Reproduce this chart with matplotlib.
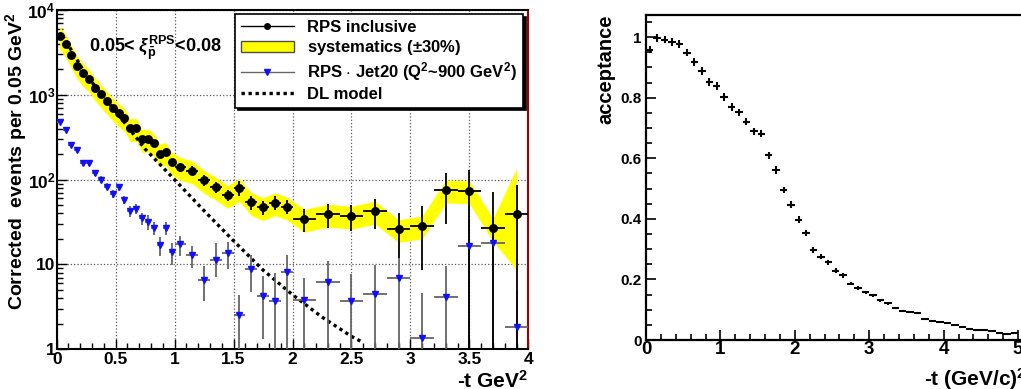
import matplotlib
matplotlib.use("Agg")
import matplotlib.pyplot as plt
import numpy as np
from matplotlib.lines import Line2D
from matplotlib.patches import Patch
from matplotlib.ticker import (FixedLocator, FixedFormatter, MultipleLocator,
                               FuncFormatter, LogLocator, NullFormatter)

plt.rcParams["font.family"] = ["Liberation Sans", "DejaVu Sans"]
plt.rcParams["font.weight"] = "bold"
plt.rcParams["axes.labelweight"] = "bold"
plt.rcParams["mathtext.fontset"] = "custom"
plt.rcParams["mathtext.rm"] = "Liberation Sans:bold"
plt.rcParams["mathtext.it"] = "Liberation Sans:italic:bold"
plt.rcParams["mathtext.bf"] = "Liberation Sans:bold"
plt.rcParams["mathtext.sf"] = "Liberation Sans:bold"

# ---------------- left panel data: -t spectrum ----------------
t_bins = [0.025, 0.075, 0.125, 0.175, 0.225, 0.275, 0.325, 0.375, 0.425, 0.475,
          0.525, 0.575, 0.625, 0.675, 0.725, 0.775, 0.825, 0.875, 0.925, 0.975,
          1.05, 1.15, 1.25, 1.35, 1.45, 1.55, 1.65, 1.75, 1.85, 1.95,
          2.1, 2.3, 2.5, 2.7, 2.9, 3.1, 3.3, 3.5, 3.7, 3.9]
t_halfw = [0.025] * 20 + [0.05] * 10 + [0.1] * 10

# RPS inclusive
rps_incl = [5000, 3960, 2930, 2190, 1800, 1530, 1217, 1015, 846, 706,
            605, 528, 402, 406, 298, 304, 267, 202, 211, 162,
            140, 128, 98.6, 82, 65.5, 79.3, 54, 47, 53.7, 48.1,
            34.4, 39.4, 37.3, 42.8, 26, 28.6, 75.8, 74.4, 26.8, 39.8]
rps_err_lo = [150, 120, 90, 70, 60, 55, 45, 40, 35, 30,
              28, 25, 22, 22, 18, 18, 17, 15, 15, 13,
              18, 16, 14, 12, 10, 16, 10, 9, 10, 9,
              10.5, 12.5, 12.5, 16.5, 14, 20, 46, 73.9, 26.3, 39.3]
rps_err_hi = [150, 120, 90, 70, 60, 55, 45, 40, 35, 30,
              28, 25, 22, 22, 18, 18, 17, 15, 15, 13,
              18, 16, 14, 12, 10, 16, 10, 9, 10, 9,
              10.5, 12.5, 12.5, 16.5, 14, 20, 44, 56, 45, 47]

# systematics band (+-30%), the band flares out at the last bin
sys_frac = 0.30
band_last_hi = 136
band_last_lo = 8.6

# RPS . Jet20
rps_jet = [478, 381, 258, 223, 158, 158, 120, 100, 82.5, 67.5,
           81, 58, 42.5, 45.5, 35, 31.8, 27, 16.9, 27, 13.9,
           17.2, 12.8, 6.65, 11.2, 13.6, 2.57, 8.9, 4.28, 3.76, 8.2,
           3.81, 6.17, 3.71, 4.45, 6.9, 1.35, 4.17, 16.7, 18.1, 1.85]
jet_err_lo = [20, 18, 15, 14, 12, 12, 10, 9, 8, 7.5,
              8, 7, 6, 6.5, 5.5, 6, 5, 4.3, 5, 4.1,
              4.5, 3.8, 2.9, 4.1, 4.8, 2.07, 4.1, 2.95, 3.26, 7.7,
              3.31, 5.67, 3.21, 3.95, 6.4, 0.85, 3.67, 16.2, 17.6, 1.35]
jet_err_hi = [20, 18, 15, 14, 12, 12, 10, 9, 8, 7.5,
              8, 7, 6, 6.5, 5.5, 6, 5, 4.3, 5, 4.1,
              4.5, 3.8, 2.9, 6.5, 5, 1.8, 4.1, 2.95, 4.1, 4.7,
              3.1, 4.8, 4, 5.4, 5, 3.2, 5.4, 17, 18, 3]

# DL model
dl_t = [0.05, 0.25, 0.5, 0.75, 1.0, 1.25, 1.5, 1.75, 2.0, 2.25, 2.5, 2.6]
dl_val = [5000, 1700, 640, 230, 100, 43, 19, 8.6, 4.4, 2.4, 1.42, 1.2]

# ---------------- right panel data: acceptance ----------------
acc_t = [0.05, 0.15, 0.25, 0.35, 0.45, 0.55, 0.65, 0.75, 0.85, 0.95,
         1.05, 1.15, 1.25, 1.35, 1.45, 1.55, 1.65, 1.75, 1.85, 1.95,
         2.05, 2.15, 2.25, 2.35, 2.45, 2.55, 2.65, 2.75, 2.85, 2.95,
         3.05, 3.15, 3.25, 3.35, 3.45, 3.55, 3.65, 3.75, 3.85, 3.95,
         4.05, 4.15, 4.25, 4.35, 4.45, 4.55, 4.65, 4.75, 4.85, 4.95]
acc_val = [0.959, 0.997, 0.992, 0.984, 0.976, 0.949, 0.918, 0.889, 0.852, 0.838,
           0.801, 0.768, 0.752, 0.721, 0.689, 0.681, 0.610, 0.561, 0.495, 0.447,
           0.397, 0.353, 0.297, 0.275, 0.256, 0.229, 0.213, 0.186, 0.171, 0.157,
           0.148, 0.131, 0.121, 0.106, 0.095, 0.092, 0.088, 0.070, 0.063, 0.059,
           0.055, 0.048, 0.043, 0.037, 0.033, 0.032, 0.029, 0.024, 0.021, 0.023]
acc_err = [0.013, 0.013, 0.013, 0.013, 0.013, 0.013, 0.013, 0.013, 0.013, 0.013,
           0.013, 0.013, 0.012, 0.012, 0.012, 0.012, 0.012, 0.012, 0.011, 0.011,
           0.011, 0.010, 0.010, 0.009, 0.009, 0.008, 0.007, 0.006, 0.006, 0.005,
           0.005, 0.005, 0.004, 0.004, 0.004, 0.003, 0.003, 0.003, 0.003, 0.003,
           0.002, 0.002, 0.002, 0.002, 0.002, 0.002, 0.002, 0.002, 0.002, 0.002]

t = np.array(t_bins)
rps = np.array(rps_incl)
band_hi = rps * (1 + sys_frac)
band_lo = rps * (1 - sys_frac)
band_hi[-1] = band_last_hi
band_lo[-1] = band_last_lo

W, H = 1021, 389
fig = plt.figure(figsize=(W / 100, H / 100), dpi=100)

# ===================== left panel =====================
ax = fig.add_axes([56.7 / W, (H - 349.3) / H, 471.6 / W, 339.3 / H])
ax.set_yscale("log")
ax.set_xlim(0, 4)
ax.set_ylim(1, 1e4)
ax.grid(True, which="major", ls=":", color="0.35", lw=0.9)
ax.set_axisbelow(True)

ax.fill_between(t, band_lo, band_hi, color="#ffff00", lw=0, zorder=1)
ax.plot(dl_t, dl_val, ls=(0, (1, 1.1)), color="k", lw=2.4, zorder=2)
ax.errorbar(t, rps_jet, yerr=[jet_err_lo, jet_err_hi], xerr=t_halfw, fmt="none",
            ecolor="0.4", elinewidth=1.3, capsize=0, zorder=3)
ax.errorbar(t, rps, yerr=[rps_err_lo, rps_err_hi], xerr=t_halfw, fmt="o",
            color="k", ms=5.4, elinewidth=1.3, capsize=0, zorder=4)
ax.plot(t, rps_jet, "v", color="#1010ff", ms=5, zorder=5)

ax.xaxis.set_major_locator(MultipleLocator(0.5))
ax.xaxis.set_minor_locator(MultipleLocator(0.1))
ax.xaxis.set_major_formatter(FuncFormatter(lambda v, p: f"{v:g}"))
ax.yaxis.set_major_locator(FixedLocator([1, 10, 100, 1000, 10000]))
ax.yaxis.set_major_formatter(FixedFormatter(["1", "10", "$10^2$", "$10^3$", "$10^4$"]))
ax.yaxis.set_minor_locator(LogLocator(base=10, subs=np.arange(2, 10)))
ax.yaxis.set_minor_formatter(NullFormatter())
ax.tick_params(which="both", direction="in", top=False, right=False, width=1)
ax.tick_params(which="major", length=7)
ax.tick_params(which="minor", length=4)
ax.tick_params(axis="x", labelsize=12.5, pad=2)
ax.tick_params(axis="y", labelsize=12.5, pad=1)
for s in ax.spines.values():
    s.set_linewidth(1.5)
ax.spines["right"].set_color("#a00000")

ax.set_ylabel("Corrected  events per 0.05 GeV$^2$", loc="top", fontsize=14)
ax.yaxis.set_label_coords(-0.058, 0.994)
ax.set_xlabel("-t GeV$^2$", loc="right", fontsize=15)
ax.xaxis.set_label_coords(1.0, -0.06)
ax.xaxis.label.set_va("top")

ax.text(0.21, 0.888, r"0.05< $\xi^{\mathrm{RPS}}_{\bar{\mathrm{p}}}$<0.08",
        transform=ax.transAxes, fontsize=13, ha="center", va="center")

handles = [
    Line2D([], [], color="k", marker="o", ms=4, lw=1),
    Patch(facecolor="#ffff00", edgecolor="0.3", lw=1),
    Line2D([], [], color="0.4", marker="v", mfc="#1010ff", mec="#1010ff", ms=4, lw=1),
    Line2D([], [], color="k", ls=(0, (1, 1.1)), lw=2.4),
]
labels = ["RPS inclusive", "systematics ($\\pm$30%)",
          "RPS $\\cdot$ Jet20 (Q$^2$~900 GeV$^2$)", "DL model"]
leg = ax.legend(handles, labels, loc="upper right", bbox_to_anchor=(0.989, 0.988),
                borderaxespad=0, fontsize=12, frameon=True, fancybox=False,
                edgecolor="k", framealpha=1, handlelength=3.2, handletextpad=0.8,
                labelspacing=0.2, borderpad=0.35, numpoints=1,
                shadow={"color": "k", "alpha": 1})
leg.get_frame().set_linewidth(1.2)

# ===================== right panel =====================
ax2 = fig.add_axes([646 / W, (H - 340) / H, 401.8 / W, 325 / H])
ax2.errorbar(acc_t, acc_val, xerr=0.05, yerr=acc_err, fmt="none",
             ecolor="k", elinewidth=1.5, capsize=0)
ax2.set_xlim(0, 5.4)
ax2.set_ylim(0, 1.073)
ax2.xaxis.set_major_locator(MultipleLocator(1))
ax2.xaxis.set_minor_locator(MultipleLocator(0.2))
ax2.yaxis.set_major_locator(MultipleLocator(0.2))
ax2.yaxis.set_minor_locator(MultipleLocator(0.05))
ax2.xaxis.set_major_formatter(FuncFormatter(lambda v, p: f"{v:g}"))
ax2.yaxis.set_major_formatter(FuncFormatter(lambda v, p: f"{v:g}"))
ax2.tick_params(which="both", direction="in", top=False, right=False, width=1.2)
ax2.tick_params(which="major", length=7)
ax2.tick_params(which="minor", length=4)
ax2.tick_params(axis="x", labelsize=13.5, pad=1)
ax2.tick_params(axis="y", labelsize=11, pad=3)
for s in ax2.spines.values():
    s.set_linewidth(1.6)

ax2.set_ylabel("acceptance", loc="top", fontsize=14.5)
ax2.yaxis.set_label_coords(-0.075, 1.0)
fig.text(1026 / W, 1 - 366 / H, "-t (GeV/c)$^2$", ha="right", va="top", fontsize=15)

fig.savefig("out.png", dpi=100)
